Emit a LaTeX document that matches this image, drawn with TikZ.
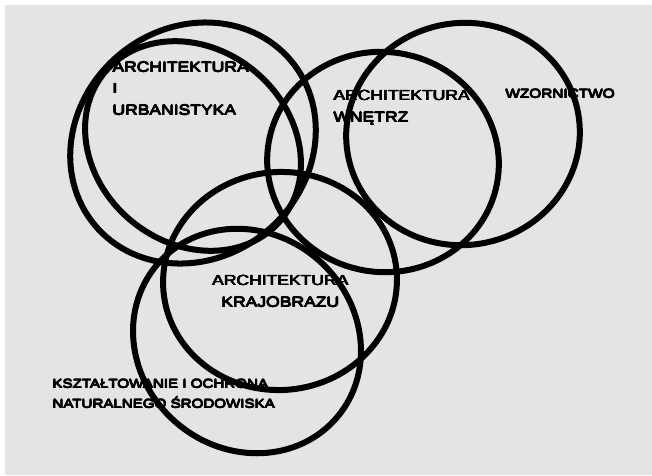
\documentclass[tikz,border=0pt]{standalone}
\usepackage{fontspec}
\usepackage{xcolor}
\newfontfamily\capfont{Liberation Sans}[FakeStretch=1.2]
\newcommand\heavy[1]{\rlap{#1}\rlap{\kern0.4pt#1}\rlap{\kern0.8pt#1}\rlap{\raisebox{0.4pt}{\kern0.4pt#1}}#1}
\definecolor{bggray}{RGB}{228,228,228}

\begin{document}
\begin{tikzpicture}[x=1pt,y=-1pt,
        ring/.style={line width=6pt,color=black},
        field/.style={inner sep=0pt,align=left,font=\capfont\fontsize{14.6}{21.5}\selectfont}]
                \useasboundingbox (0,0) rectangle (652,475);
                \fill[white] (0,0) rectangle (652,475);
                \fill[bggray] (5,5) rectangle (652,475);

                % rings
                \draw[ring,rotate around={40:(193,143)}] (193,143) ellipse [x radius=128pt,y radius=115pt];
                \draw[ring,rotate around={-40:(193,146)}] (193,146) ellipse [x radius=115pt,y radius=97pt];
                \draw[ring,rotate around={-10:(383,162)}] (383,162) ellipse [x radius=116pt,y radius=110pt];
                \draw[ring,rotate around={10:(463,134)}] (463,134) ellipse [x radius=117pt,y radius=111pt];
                \draw[ring,rotate around={5:(280,281)}] (280,281) ellipse [x radius=117pt,y radius=109pt];
                \draw[ring,rotate around={-40:(247,341)}] (247,341) ellipse [x radius=118pt,y radius=108pt];

                % labels
                \node (urb) at (112,115) [field,anchor=base west] {\heavy{ARCHITEKTURA}\\\heavy{I}\\\heavy{URBANISTYKA}};
                \node (wn) at (333,122) [field,anchor=base west] {\heavy{ARCHITEKTURA}\\\heavy{WNĘTRZ}};
                \node (wz) at (505,98) [field,anchor=base west,font=\capfont\fontsize{12.8}{20}\selectfont] {\heavy{WZORNICTWO}};
                \node (kr) at (280,307) [field,anchor=base,align=center] {\heavy{ARCHITEKTURA}\\\heavy{KRAJOBRAZU}};
                \node (ks) at (52,408) [field,anchor=base west,font=\capfont\fontsize{12.6}{20}\selectfont] {\heavy{KSZTAŁTOWANIE I OCHRONA}\\\heavy{NATURALNEGO ŚRODOWISKA}};
            \end{tikzpicture}
\end{document}
